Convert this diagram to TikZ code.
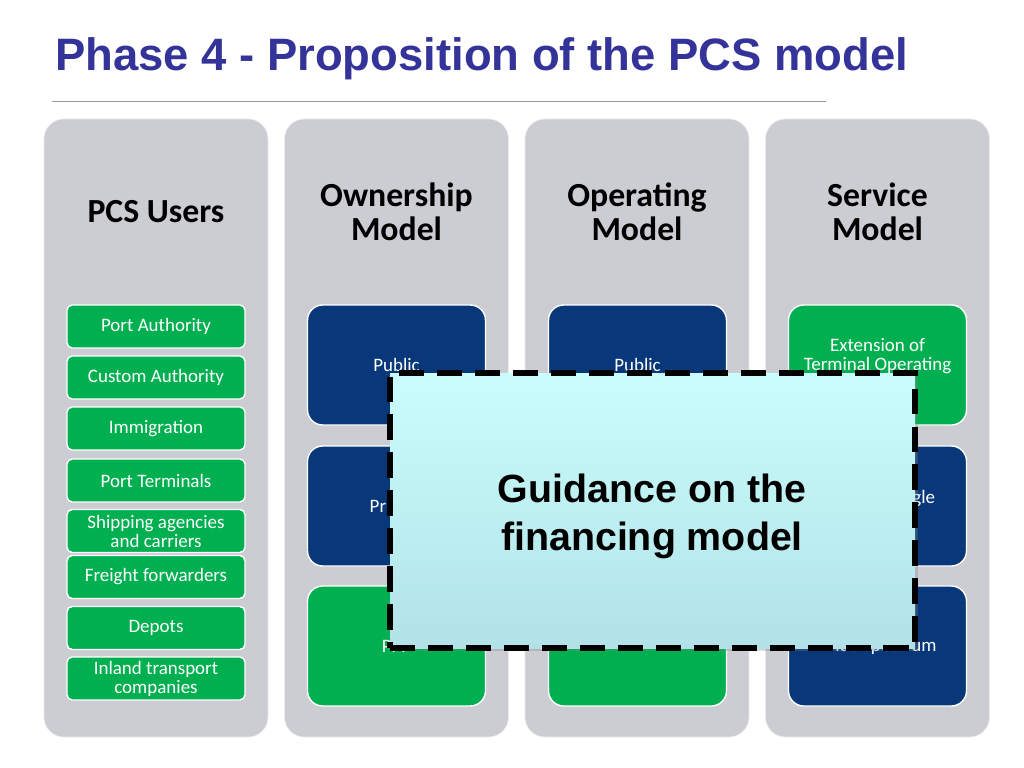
\documentclass[tikz,border=0pt]{standalone}
\usepackage{fontspec}
\setmainfont{Carlito}
\newfontfamily\arialfont{Liberation Sans}
\usepackage{tikz}
\usepackage{xcolor}
\usetikzlibrary{calc}
\usetikzlibrary{positioning}
\usetikzlibrary{shadows}

\definecolor{titleblue}{HTML}{333399}
\definecolor{pcsgreen}{HTML}{00B050}
\definecolor{pcsnavy}{HTML}{09387A}
\definecolor{colgray}{HTML}{CCCDD3}
\definecolor{guidetop}{HTML}{CAFDFD}
\definecolor{guidebot}{HTML}{B2E2E7}

\tikzset{
	column/.style={draw=white!60!colgray,fill=colgray,rounded corners=0.5cm,minimum width=5.6cm,minimum height=15.45cm,inner sep=0pt},
	header/.style={align=center,font=\fontsize{24}{24.5}\selectfont\bfseries},
	userbox/.style={draw=white,line width=1pt,fill=pcsgreen,text=white,rounded corners=0.13cm,minimum width=4.45cm,minimum height=1.075cm,inner sep=0pt,align=center,font=\fontsize{13.5}{13.5}\selectfont},
	modelbox/.style={draw=white,line width=1pt,text=white,rounded corners=0.38cm,minimum width=4.45cm,minimum height=3cm,inner sep=0pt,align=center,font=\fontsize{13.5}{13.5}\selectfont},
	guidebox/.style={draw=black,line width=4pt,dash pattern=on 18pt off 9pt,top color=guidetop,bottom color=guidebot,minimum width=13.125cm,minimum height=6.875cm,inner sep=0pt,drop shadow={opacity=0.3,shadow xshift=2pt,shadow yshift=-2pt}},
}

\begin{document}
\begin{tikzpicture}
\useasboundingbox (0,0) rectangle (25.6,-19.2);
\node[anchor=base west,inner sep=0pt,text=titleblue,font=\arialfont\fontsize{32.3}{32}\selectfont\bfseries] (title) at (1.375,-1.775) {Phase 4 - Proposition of the PCS model};
\coordinate (ruleA) at (1.3,-2.525);
\coordinate (ruleB) at (20.65,-2.525);
\draw[gray!80,line width=0.7pt] (ruleA) -- (ruleB);

% the four columns
\foreach \name/\head [count=\i from 0] in {users/PCS Users,owner/Ownership\\Model,operate/Operating\\Model,service/Service\\Model}{
		\node[column] (\name) at (3.9+6.0125*\i,-10.7) {};
		\node[header] (\name-head) at (3.9+6.0125*\i,-5.3) {\head};
}

% users
\foreach \name/\txt/\y in {portauth/Port Authority/-8.1625,custom/Custom Authority/-9.4375,immig/Immigration/-10.7125,terminals/Port Terminals/-12.0125,shipping/Shipping agencies\\and carriers/-13.275,freight/Freight forwarders/-14.425,depots/Depots/-15.7,inland/Inland transport\\companies/-16.9625}{
		\node[userbox] (\name) at (3.9,\y) {\txt};
}

% model boxes
\foreach \name/\col/\x/\y/\txt in {owner1/pcsnavy/9.9125/-9.125/Public,owner2/pcsnavy/9.9125/-12.65/Private,owner3/pcsgreen/9.9125/-16.15/PPP,operate1/pcsnavy/15.9375/-9.125/Public,operate2/pcsnavy/15.9375/-12.65/{},operate3/pcsgreen/15.9375/-16.15/{},service1/pcsgreen/21.9375/-9.125/Extension of\\Terminal Operating\\System,service2/pcsnavy/21.9375/-12.65/National Single\\Window,service3/pcsnavy/21.9375/-16.15/Wide spectrum}{
		\node[modelbox,fill=\col] (\name) at (\x,\y) {\txt};
}

% overlay
\node[guidebox] (guide) at (16.3125,-12.7625) {};
\node[align=center,font=\arialfont\fontsize{28}{34}\selectfont\bfseries] (guide-text) at (16.3,-12.92) {Guidance on the\\financing model};
\end{tikzpicture}
\end{document}
